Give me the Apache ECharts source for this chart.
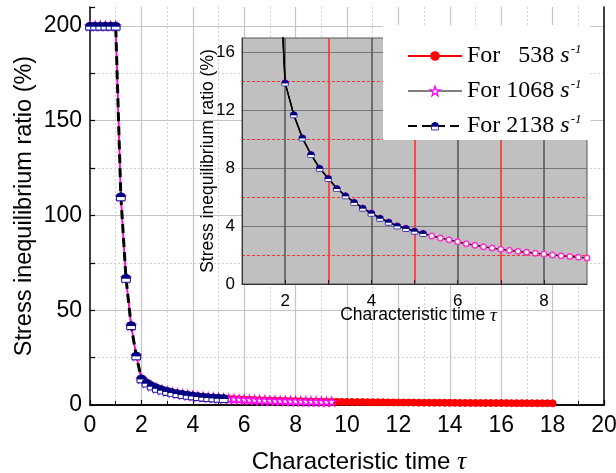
<!DOCTYPE html>
<html>
<head>
<meta charset="utf-8">
<script src="https://cdn.jsdelivr.net/npm/echarts@6/dist/echarts.min.js"></script>
<style>html,body{margin:0;padding:0;background:#fff}#c{width:616px;height:473px}</style>
</head>
<body>
<div id="c"></div>
<script>
// Characteristic time tau (shared sampling grid)
const tau = [0.0,0.2,0.4,0.6,0.8,1.0,1.2,1.4,1.6,1.8,2.0,2.2,2.4,2.6,2.8,3.0,3.2,3.4,3.6,3.8,
  4.0,4.2,4.4,4.6,4.8,5.0,5.2,5.4,5.6,5.8,6.0,6.2,6.4,6.6,6.8,7.0,7.2,7.4,7.6,7.8,
  8.0,8.2,8.4,8.6,8.8,9.0,9.2,9.4,9.6,9.8,10.0,10.2,10.4,10.6,10.8,11.0,11.2,11.4,11.6,11.8,
  12.0,12.2,12.4,12.6,12.8,13.0,13.2,13.4,13.6,13.8,14.0,14.2,14.4,14.6,14.8,15.0,15.2,15.4,15.6,15.8,
  16.0,16.2,16.4,16.6,16.8,17.0,17.2,17.4,17.6,17.8,18.0];
// Stress inequilibrium ratio (%) for 538 s^-1 (tau 0..18)
const ratio538 = [200,200,200,200,200,200,110,67,42,26,13.9,11.7,10.1,8.95,8.0,7.3,6.6,6.1,5.65,5.25,
  4.9,4.55,4.28,4.02,3.85,3.66,3.5,3.32,3.18,3.05,2.92,2.78,2.68,2.58,2.48,2.40,2.33,2.26,2.19,2.13,
  2.07,2.01,1.95,1.90,1.85,1.80,1.76,1.72,1.68,1.64,1.61,1.58,1.55,1.52,1.49,1.46,1.43,1.41,1.38,1.36,
  1.34,1.31,1.29,1.27,1.25,1.23,1.21,1.20,1.18,1.16,1.15,1.13,1.12,1.10,1.09,1.07,1.06,1.05,1.03,1.02,
  1.01,1.00,0.98,0.97,0.96,0.95,0.94,0.93,0.92,0.91,0.90];
// for 1068 s^-1 (tau 0..9.4)
const ratio1068 = [200,200,200,200,200,200,110,67,42,26,13.9,11.7,10.1,8.95,8.0,7.3,6.6,6.1,5.65,5.25,
  4.9,4.55,4.28,4.02,3.85,3.66,3.5,3.32,3.18,3.05,2.92,2.78,2.68,2.58,2.48,2.40,2.33,2.26,2.19,2.13,
  2.07,2.01,1.95,1.90,1.85,1.80,1.76,1.72];
// for 2138 s^-1 (tau 0..5.2)
const ratio2138 = [200,200,200,200,200,200,110,67,42,26,13.9,11.7,10.1,8.95,8.0,7.3,6.6,6.1,5.65,5.25,
  4.9,4.55,4.28,4.02,3.85,3.66,3.5];

const legendNames = ['For 538', 'For 1068', 'For 2138'];
const legendRate = {'For 538': '538', 'For 1068': '1068', 'For 2138': '2138'};

const mainXTicks = {min: 0, max: 20, interval: 2};
const mainYTicks = {min: 0, max: 210, interval: 50, minor: 25};
// inset tick labels / grid positions
const insetXRange = [1, 9];
const insetXMajor = [2, 4, 6, 8];
const insetXMinor = [3, 5, 7];
const insetYRange = [0, 17];
const insetYLabels = [0, 4, 8, 12, 16];
const insetYMajor = [4, 8, 12, 16];
const insetYMinor = [2, 6, 10, 14];

function pairs(arr) { return arr.map((v, i) => [tau[i], v]); }

function halfMarker(w, h) {
  const svg = `<svg xmlns='http://www.w3.org/2000/svg' width='${w*4}' height='${h*4}' viewBox='0 0 12 10'>` +
    `<rect x='1.6' y='5' width='8.8' height='4.2' rx='0.8' fill='#ffffff' stroke='#1c1ca8' stroke-width='1.1'/>` +
    `<path d='M0.8,5.6 L2,2.2 L6,0.5 L10,2.2 L11.2,5.6 Z' fill='#000080'/>` +
    `</svg>`;
  return 'image://data:image/svg+xml;charset=utf-8,' + encodeURIComponent(svg);
}
const STAR = 'path://M50,0 L61.8,35.5 L100,35.5 L69.1,57.4 L80.9,92.7 L50,70.8 L19.1,92.7 L30.9,57.4 L0,35.5 L38.2,35.5 Z';

const SANS = 'Liberation Sans';
const SERIF = 'Liberation Serif';

const chart = echarts.init(document.getElementById('c'), null, {renderer: 'canvas'});

const gridGray = '#c4c4c4';
const dotGray = '#d2d2d2';
const insetGray = '#5a5a5a';
const insetRed = '#ff3030';

chart.setOption({
  animation: false,
  backgroundColor: '#ffffff',
  grid: [
    {left: 90, top: 7, right: 12, bottom: 68, show: false, outerBoundsMode: 'none', containLabel: false},
    {left: 242, top: 38, right: 29, bottom: 189, show: true, backgroundColor: '#c0c0c0',
     borderColor: '#555555', borderWidth: 1, z: 1, outerBoundsMode: 'none', containLabel: false}
  ],
  legend: {
    data: [
      {name: legendNames[0]},
      {name: legendNames[1], lineStyle: {color: '#000000', width: 1},
       itemStyle: {color: '#ffffff', borderColor: '#ff00ff', borderWidth: 1.3}},
      {name: legendNames[2]}
    ],
    orient: 'vertical',
    left: 383, top: 25,
    padding: [18, 9, 2, 24],
    itemGap: 10,
    itemWidth: 54, itemHeight: 12,
    backgroundColor: '#ffffff',
    borderWidth: 0,
    z: 10,
    selectedMode: false,
    formatter: function (name) {
      const r = legendRate[name];
      const pad = r.length < 4 ? '   ' : ' ';
      return '{t|For' + pad + r + ' }{s|s}{p|-1}';
    },
    textStyle: {
      rich: {
        t: {fontFamily: SERIF, fontSize: 24, color: '#000', lineHeight: 26},
        s: {fontFamily: SERIF, fontSize: 24, fontStyle: 'italic', color: '#000', lineHeight: 26},
        p: {fontFamily: SERIF, fontSize: 13, fontStyle: 'italic', color: '#000', verticalAlign: 'top', lineHeight: 26, padding: [0,0,12,1]}
      }
    }
  },
  xAxis: [
    { // main bottom
      type: 'value', gridIndex: 0, position: 'bottom',
      min: mainXTicks.min, max: mainXTicks.max, interval: mainXTicks.interval,
      name: 'Characteristic time {tau|τ}',
      nameLocation: 'middle', nameGap: 44, nameMoveOverlap: false,
      nameTextStyle: {fontFamily: SANS, fontSize: 24, color: '#000', padding: [0, 0, 0, 24],
        rich: {tau: {fontFamily: SERIF, fontStyle: 'italic', fontSize: 26, color: '#000'}}},
      axisLine: {show: true, lineStyle: {color: '#000', width: 1.5}},
      axisTick: {show: true, inside: true, length: 5, lineStyle: {color: '#000', width: 1.2}},
      minorTick: {show: true, splitNumber: 2, length: 4, lineStyle: {color: '#000', width: 1}},
      axisLabel: {fontFamily: SANS, fontSize: 23, color: '#000', margin: 9},
      splitLine: {show: true, showMinLine: false, showMaxLine: false, lineStyle: {color: gridGray, width: 1.2}},
      minorSplitLine: {show: true, lineStyle: {color: dotGray, width: 1, type: [2, 2]}}
    },
    { // main top frame
      type: 'value', gridIndex: 0, position: 'top',
      min: mainXTicks.min, max: mainXTicks.max, interval: mainXTicks.interval,
      axisLine: {show: true, lineStyle: {color: '#000', width: 1.5}},
      axisTick: {show: false}, axisLabel: {show: false}, splitLine: {show: false}
    },
    { // inset x: red minor grid lines
      type: 'value', gridIndex: 1, position: 'bottom', z: 1.5,
      min: insetXRange[0], max: insetXRange[1],
      axisLine: {show: false},
      axisTick: {show: true, inside: true, length: 4, customValues: insetXMinor, lineStyle: {color: '#222', width: 1}},
      axisLabel: {show: false, customValues: insetXMinor},
      splitLine: {show: true, lineStyle: {color: insetRed, width: 1.6}}
    },
    { // inset x: gray major lines, labels
      type: 'value', gridIndex: 1, position: 'bottom', z: 1.5,
      min: insetXRange[0], max: insetXRange[1],
      name: 'Characteristic time {tau|τ}',
      nameLocation: 'middle', nameGap: 22, nameMoveOverlap: false,
      nameTextStyle: {fontFamily: SANS, fontSize: 17.5, color: '#000', padding: [0, 0, 0, 8],
        rich: {tau: {fontFamily: SERIF, fontStyle: 'italic', fontSize: 19, color: '#000'}}},
      axisLine: {show: true, lineStyle: {color: '#333', width: 1}},
      axisTick: {show: true, inside: true, length: 4, customValues: insetXMajor, lineStyle: {color: '#222', width: 1}},
      axisLabel: {fontFamily: SANS, fontSize: 17, color: '#000', margin: 9, customValues: insetXMajor},
      splitLine: {show: true, lineStyle: {color: insetGray, width: 1.6}}
    }
  ],
  yAxis: [
    { // main dotted minor lines + minor ticks (left)
      type: 'value', gridIndex: 0, position: 'left',
      min: mainYTicks.min, max: mainYTicks.max, interval: mainYTicks.minor,
      axisLine: {show: false},
      axisTick: {show: true, inside: true, length: 5, lineStyle: {color: '#000', width: 1.2}},
      axisLabel: {show: false},
      splitLine: {show: true, showMinLine: false, showMaxLine: false, lineStyle: {color: dotGray, width: 1, type: [2, 2]}}
    },
    { // main left axis with labels
      type: 'value', gridIndex: 0, position: 'left',
      min: mainYTicks.min, max: mainYTicks.max, interval: mainYTicks.interval,
      name: 'Stress inequilibrium ratio (%)',
      nameLocation: 'middle', nameGap: 53, nameMoveOverlap: false,
      nameTextStyle: {fontFamily: SANS, fontSize: 23.5, color: '#000'},
      axisLine: {show: true, lineStyle: {color: '#000', width: 1.5}},
      axisTick: {show: false},
      axisLabel: {fontFamily: SANS, fontSize: 23, color: '#000', margin: 8,
        formatter: v => (v % mainYTicks.interval === 0 ? String(v) : '')},
      splitLine: {show: true, showMinLine: false, showMaxLine: false, lineStyle: {color: gridGray, width: 1.2}}
    },
    { // main right frame
      type: 'value', gridIndex: 0, position: 'right',
      min: mainYTicks.min, max: mainYTicks.max, interval: mainYTicks.interval,
      axisLine: {show: true, lineStyle: {color: '#000', width: 1.5}},
      axisTick: {show: false}, axisLabel: {show: false}, splitLine: {show: false}
    },
    { // inset y: red dashed minor lines
      type: 'value', gridIndex: 1, position: 'left', z: 1.5,
      min: insetYRange[0], max: insetYRange[1],
      axisLine: {show: false},
      axisTick: {show: false, customValues: insetYMinor},
      axisLabel: {show: false, customValues: insetYMinor},
      splitLine: {show: true, lineStyle: {color: insetRed, width: 1, type: [3, 2]}}
    },
    { // inset y: gray major lines, labels
      type: 'value', gridIndex: 1, position: 'left', z: 1.5,
      min: insetYRange[0], max: insetYRange[1],
      name: 'Stress inequilibrium ratio (%)',
      nameLocation: 'middle', nameGap: 25, nameMoveOverlap: false,
      nameTextStyle: {fontFamily: SANS, fontSize: 17.5, color: '#000'},
      axisLine: {show: true, lineStyle: {color: '#333', width: 1}},
      axisTick: {show: false, customValues: insetYMajor},
      axisLabel: {fontFamily: SANS, fontSize: 17, color: '#000', margin: 7, customValues: insetYLabels},
      splitLine: {show: true, lineStyle: {color: '#767676', width: 1}}
    }
  ],
  series: [
    // main chart
    {name: legendNames[0], type: 'line', xAxisIndex: 0, yAxisIndex: 1, data: pairs(ratio538),
     symbol: 'circle', symbolSize: 7, showAllSymbol: true,
     itemStyle: {color: '#ff0000', borderColor: '#ff0000'},
     lineStyle: {color: '#ff0000', width: 1.5}, z: 2},
    {name: legendNames[1], type: 'line', xAxisIndex: 0, yAxisIndex: 1, data: pairs(ratio1068),
     symbol: STAR, symbolSize: 9, showAllSymbol: true,
     itemStyle: {color: '#ffffff', borderColor: '#ff00ff', borderWidth: 1.2},
     lineStyle: {color: '#ff00ff', width: 1.5}, z: 3},
    {name: legendNames[2], type: 'line', xAxisIndex: 0, yAxisIndex: 1, data: pairs(ratio2138),
     symbol: halfMarker(12, 10), symbolSize: [12, 10], showAllSymbol: true,
     itemStyle: {color: '#000080'},
     lineStyle: {color: '#000000', width: 3, type: [9, 5]}, z: 4},
    // inset
    {name: 'inset538', type: 'line', xAxisIndex: 3, yAxisIndex: 4, data: pairs(ratio538),
     symbol: 'circle', symbolSize: 4, showAllSymbol: true, clip: true,
     itemStyle: {color: '#ff0000'}, lineStyle: {color: '#ff0000', width: 1}, z: 2},
    {name: 'inset1068', type: 'line', xAxisIndex: 3, yAxisIndex: 4, data: pairs(ratio1068),
     symbol: 'circle', symbolSize: 5.5, showAllSymbol: true, clip: true,
     itemStyle: {color: '#ffffff', borderColor: '#ff33cc', borderWidth: 1.5},
     lineStyle: {color: '#000000', width: 1.3}, z: 3},
    {name: 'inset2138', type: 'line', xAxisIndex: 3, yAxisIndex: 4, data: pairs(ratio2138),
     symbol: halfMarker(9, 8), symbolSize: [9, 8], showAllSymbol: true, clip: true,
     itemStyle: {color: '#000080'},
     lineStyle: {color: '#000000', width: 1.5}, z: 4}
  ]
});
</script>
</body>
</html>
